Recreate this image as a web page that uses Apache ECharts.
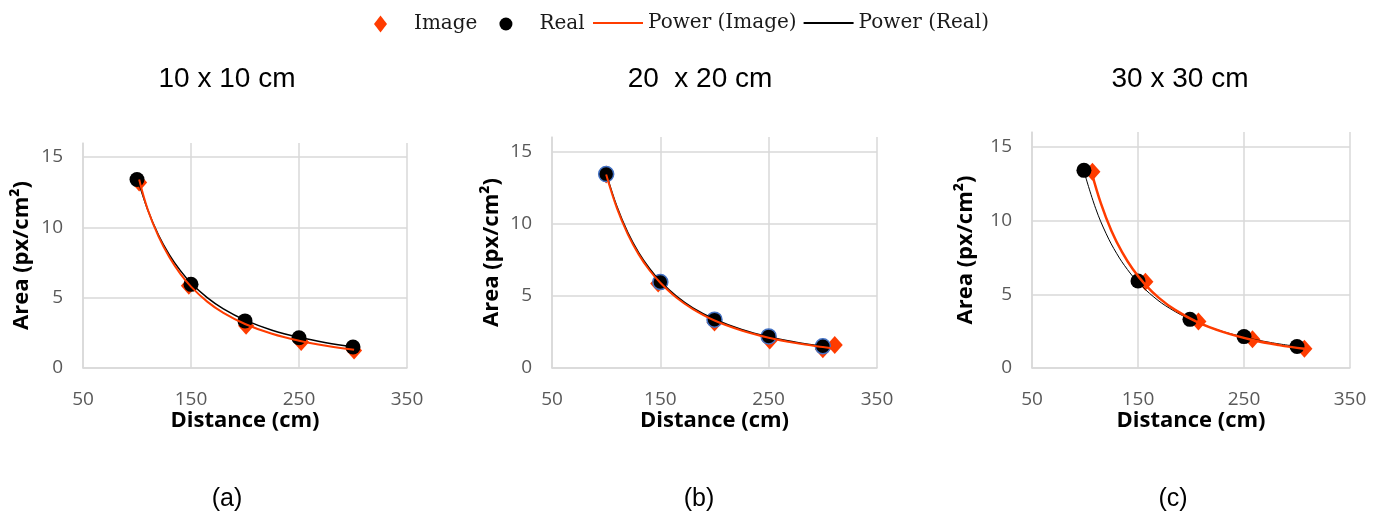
<!DOCTYPE html>
<html>
<head>
<meta charset="utf-8">
<script src="https://cdn.jsdelivr.net/npm/echarts@6/dist/echarts.min.js"></script>
<style>html,body{margin:0;padding:0;background:#fff}#c{width:1386px;height:514px}</style>
</head>
<body>
<div id="c"></div>
<script>
// ---- data ----
const panelTitles = ['10 x 10 cm', '20  x 20 cm', '30 x 30 cm'];
const panelLabels = ['(a)', '(b)', '(c)'];
const xTicks = [50, 150, 250, 350];
const yTicks = [0, 5, 10, 15];
const seriesNames = ['Image', 'Real', 'Power (Image)', 'Power (Real)'];

// (a) 10 x 10 cm
const realX_a = [100, 150, 200, 250, 300];
const realY_a = [13.4, 5.95, 3.35, 2.15, 1.49];
const imageX_a = [102, 148, 201, 252, 301];
const imageY_a = [13.2, 5.85, 3.0, 1.85, 1.25];
const trendRealX_a = [100, 110, 120, 130, 140, 150, 165, 180, 200, 225, 250, 275, 300];
const trendRealY_a = [13.6, 11.24, 9.44, 8.05, 6.94, 6.04, 5.0, 4.2, 3.4, 2.69, 2.18, 1.8, 1.51];
const trendImageX_a = [102, 110, 120, 130, 140, 150, 165, 180, 200, 225, 250, 275, 301];
const trendImageY_a = [13.4, 11.25, 9.34, 7.87, 6.71, 5.79, 4.72, 3.92, 3.13, 2.43, 1.94, 1.58, 1.3];

// (b) 20 x 20 cm
const realX_b = [100, 150, 200, 250, 300];
const realY_b = [13.43, 5.95, 3.35, 2.19, 1.5];
const imageX_b = [100, 148, 200, 251, 300, 311];
const imageY_b = [13.4, 5.85, 3.15, 1.9, 1.3, 1.6];
const trendRealX_b = [100, 110, 120, 130, 140, 150, 165, 180, 200, 225, 250, 275, 300];
const trendRealY_b = [13.5, 11.16, 9.38, 7.99, 6.89, 6.0, 4.96, 4.17, 3.38, 2.67, 2.16, 1.79, 1.5];
const trendImageX_b = [100, 110, 120, 130, 140, 150, 165, 180, 200, 225, 250, 275, 300, 311];
const trendImageY_b = [13.4, 11.05, 9.26, 7.87, 6.77, 5.9, 4.86, 4.08, 3.29, 2.6, 2.1, 1.73, 1.45, 1.35];

// (c) 30 x 30 cm
const realX_c = [99, 150, 199, 250, 300];
const realY_c = [13.4, 5.9, 3.3, 2.13, 1.46];
const imageX_c = [107, 157, 207, 258, 307];
const imageY_c = [13.3, 5.85, 3.15, 1.95, 1.3];
const trendRealX_c = [100, 110, 120, 130, 140, 150, 165, 180, 200, 225, 250, 275, 300];
const trendRealY_c = [13.1, 10.83, 9.10, 7.75, 6.68, 5.82, 4.81, 4.04, 3.28, 2.59, 2.10, 1.73, 1.46];
const trendImageX_c = [106.5, 115, 125, 135, 145, 157, 170, 185, 206, 230, 258, 283, 307];
const trendImageY_c = [13.2, 11.16, 9.29, 7.85, 6.71, 5.64, 4.74, 3.94, 3.11, 2.45, 1.90, 1.55, 1.30];

// ---- build chart ----
const zip = (xs, ys) => xs.map((x, i) => [x, ys[i]]);
const RED = '#FF3C00';
const GRID = '#D9D9D9';
const LABEL = '#595959';
const sans = '"Open Sans", "Noto Sans", sans-serif';
const legendText = { fontFamily: '"DejaVu Serif", serif', fontSize: 20, color: '#1a1a1a' };

const panels = [
  { grid: { left: 83, top: 143, width: 324, height: 225 }, nameGap: 50, tcx: 222, lcx: 222,
    real: zip(realX_a, realY_a), image: zip(imageX_a, imageY_a),
    tReal: zip(trendRealX_a, trendRealY_a), tImage: zip(trendImageX_a, trendImageY_a),
    realBorder: null, wReal: 1.5, wImage: 2 },
  { grid: { left: 552, top: 137, width: 325, height: 231 }, nameGap: 49, tcx: 695, lcx: 694,
    real: zip(realX_b, realY_b), image: zip(imageX_b, imageY_b),
    tReal: zip(trendRealX_b, trendRealY_b), tImage: zip(trendImageX_b, trendImageY_b),
    realBorder: '#4472C4', wReal: 1.5, wImage: 2 },
  { grid: { left: 1032, top: 132, width: 318, height: 236 }, nameGap: 55, tcx: 1175, lcx: 1168,
    real: zip(realX_c, realY_c), image: zip(imageX_c, imageY_c),
    tReal: zip(trendRealX_c, trendRealY_c), tImage: zip(trendImageX_c, trendImageY_c),
    realBorder: null, wReal: 1, wImage: 2.5 }
];

const option = {
  animation: false,
  backgroundColor: '#fff',
  title: [],
  legend: [
    {
      left: 369, top: 9,
      itemWidth: 13, itemHeight: 17, itemGap: 22,
      data: [
        { name: seriesNames[0], icon: 'diamond' },
        { name: seriesNames[1], icon: 'circle' }
      ],
      textStyle: Object.assign({ padding: [0, 0, 0, 22] }, legendText)
    },
    {
      left: 587, top: 8,
      itemWidth: 50, itemHeight: 14, itemGap: 6,
      data: [
        { name: seriesNames[2], itemStyle: { opacity: 0 } },
        { name: seriesNames[3], itemStyle: { opacity: 0 } }
      ],
      textStyle: legendText
    }
  ],
  grid: [], xAxis: [], yAxis: [], series: []
};

panels.forEach((p, i) => {
  option.title.push({
    text: panelTitles[i], left: p.tcx, top: 60, textAlign: 'center',
    textStyle: { fontFamily: '"Liberation Sans", Arial, sans-serif', fontSize: 28, fontWeight: 'normal', color: '#000' }
  });
  option.title.push({
    text: panelLabels[i], left: p.lcx, top: 482, textAlign: 'center',
    textStyle: { fontFamily: '"Liberation Sans", Arial, sans-serif', fontSize: 25, fontWeight: 'normal', color: '#000' }
  });
  option.grid.push(p.grid);
  option.xAxis.push({
    type: 'value', gridIndex: i, min: xTicks[0], max: xTicks[xTicks.length - 1], interval: xTicks[1] - xTicks[0],
    name: 'Distance (cm)', nameLocation: 'middle', nameGap: 42,
    nameTextStyle: { fontFamily: sans, fontWeight: 'bold', fontSize: 22, color: '#000' },
    axisLine: { show: true, lineStyle: { color: GRID, width: 1.5 } },
    axisTick: { show: false },
    axisLabel: { margin: 22, fontFamily: sans, fontSize: 19, color: LABEL },
    splitLine: { show: true, lineStyle: { color: GRID, width: 1.5 } }
  });
  option.yAxis.push({
    type: 'value', gridIndex: i, min: yTicks[0], max: 16, interval: yTicks[1] - yTicks[0],
    name: 'Area (px/cm²)', nameLocation: 'middle', nameGap: p.nameGap,
    nameTextStyle: { fontFamily: sans, fontWeight: 'bold', fontSize: 22, color: '#000' },
    axisLine: { show: true, lineStyle: { color: GRID, width: 1.5 } },
    axisTick: { show: false },
    axisLabel: { margin: 20, fontFamily: sans, fontSize: 19, color: LABEL, showMaxLabel: false },
    splitLine: { show: true, showMaxLine: false, lineStyle: { color: GRID, width: 1.5 } }
  });
  option.series.push({
    name: 'Image', type: 'scatter', xAxisIndex: i, yAxisIndex: i,
    symbol: 'diamond', symbolSize: [16, 18], data: p.image,
    itemStyle: { color: RED, opacity: 1 }
  });
  option.series.push({
    name: 'Real', type: 'scatter', xAxisIndex: i, yAxisIndex: i,
    symbol: 'circle', symbolSize: 15, data: p.real,
    itemStyle: p.realBorder ? { color: '#000', borderColor: p.realBorder, borderWidth: 1.5, opacity: 1 } : { color: '#000', opacity: 1 }
  });
  option.series.push({
    name: 'Power (Real)', type: 'line', xAxisIndex: i, yAxisIndex: i,
    symbol: 'none', showSymbol: false, smooth: 0.4, data: p.tReal,
    lineStyle: { color: '#000', width: p.wReal }, itemStyle: { color: '#000' }
  });
  option.series.push({
    name: 'Power (Image)', type: 'line', xAxisIndex: i, yAxisIndex: i,
    symbol: 'none', showSymbol: false, smooth: 0.4, data: p.tImage,
    lineStyle: { color: RED, width: p.wImage }, itemStyle: { color: RED }
  });
});

const chart = echarts.init(document.getElementById('c'), null, { renderer: 'canvas' });
chart.setOption(option);
</script>
</body>
</html>
